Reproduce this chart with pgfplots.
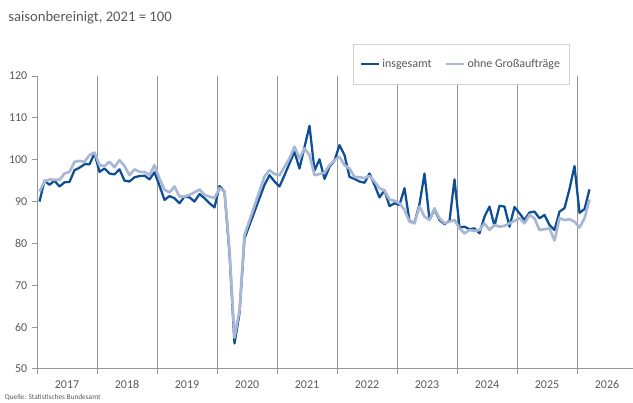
\documentclass[border=0pt]{standalone}
\usepackage{fontspec}
\setmainfont{Carlito}
\usepackage{pgfplots}
\pgfplotsset{compat=1.18}
\definecolor{dblue}{RGB}{14,78,150}
\definecolor{lgray}{RGB}{168,184,212}
\definecolor{txt}{RGB}{89,89,89}
\definecolor{gridc}{RGB}{150,150,150}

\begin{document}
\begin{tikzpicture}
\useasboundingbox (0,0) rectangle (474.75pt,302.25pt);
\node[anchor=west, text=txt, font=\fontsize{11}{13}\selectfont, inner sep=0pt] at (6pt,288.75pt) {saisonbereinigt, 2021 = 100};
\node[anchor=west, text=txt, font=\fontsize{5.5}{6}\selectfont, inner sep=0pt] at (3.5pt,4.5pt) {Quelle: Statistisches Bundesamt};
\begin{axis}[
    at={(27.75pt,25.5pt)}, anchor=south west,
    scale only axis, width=447pt, height=219.75pt,
    xmin=0, xmax=119.2, ymin=50, ymax=120,
    axis x line*=bottom, axis y line*=left,
    axis line style={gridc, line width=0.75pt, -},
    xtick={0,12,...,108}, xticklabels={},
    extra x ticks={6,18,...,114},
    extra x tick labels={2017,2018,2019,2020,2021,2022,2023,2024,2025,2026},
    extra x tick style={major tick length=0pt, grid=none,
        xticklabel style={yshift=-5pt}},
    xmajorgrids, grid style={gridc, line width=0.75pt},
    ytick={50,60,...,120},
    tick align=outside, major tick length=3.75pt,
    tick style={gridc, line width=0.75pt},
    tick label style={text=txt, font=\fontsize{9}{11}\selectfont},
    /pgf/number format/assume math mode=true,
    legend columns=2,
    legend cell align=left,
    legend image code/.code={\draw[#1] (0pt,0pt) -- (13pt,0pt);},
    legend style={at={(0.712,1.041)}, anchor=center, draw=gray!35, fill=white,
        text=txt, font=\fontsize{9}{11}\selectfont, inner xsep=5pt, inner ysep=9pt,
        /tikz/every even column/.append style={column sep=8pt}},
]
\addplot[dblue, line width=1.7pt, line join=round] coordinates {
(0.5,90.0)(1.5,95.0)(2.5,94.0)(3.5,95.0)(4.5,93.6)(5.5,94.6)(6.5,94.7)(7.5,97.5)(8.5,98.1)(9.5,98.9)(10.5,98.9)(11.5,101.5)
(12.5,97.1)(13.5,97.9)(14.5,96.7)(15.5,96.5)(16.5,97.7)(17.5,95.0)(18.5,94.8)(19.5,95.8)(20.5,96.1)(21.5,96.2)(22.5,95.3)(23.5,97.0)
(24.5,93.8)(25.5,90.4)(26.5,91.3)(27.5,90.8)(28.5,89.6)(29.5,91.2)(30.5,91.0)(31.5,90.0)(32.5,91.8)(33.5,90.8)(34.5,89.6)(35.5,88.6)
(36.5,93.7)(37.5,92.4)(38.5,77.6)(39.5,56.1)(40.5,63.3)(41.5,81.2)(42.5,84.4)(43.5,87.6)(44.5,90.8)(45.5,94.0)(46.5,96.3)(47.5,94.8)
(48.5,93.6)(49.5,96.3)(50.5,99.1)(51.5,101.9)(52.5,97.9)(53.5,103.0)(54.5,108.1)(55.5,97.4)(56.5,100.1)(57.5,95.4)(58.5,98.3)(59.5,99.8)
(60.5,103.5)(61.5,101.1)(62.5,95.9)(63.5,95.4)(64.5,94.8)(65.5,94.5)(66.5,96.7)(67.5,94.0)(68.5,91.0)(69.5,92.7)(70.5,88.9)(71.5,89.6)
(72.5,89.2)(73.5,93.2)(74.5,85.3)(75.5,85.0)(76.5,89.4)(77.5,96.7)(78.5,85.6)(79.5,88.1)(80.5,85.6)(81.5,84.6)(82.5,85.4)(83.5,95.3)
(84.5,83.8)(85.5,84.0)(86.5,83.4)(87.5,83.6)(88.5,82.4)(89.5,86.4)(90.5,88.8)(91.5,84.2)(92.5,89.0)(93.5,88.8)(94.5,84.0)(95.5,88.7)
(96.5,87.2)(97.5,85.6)(98.5,87.4)(99.5,87.6)(100.5,86.0)(101.5,86.8)(102.5,84.4)(103.5,83.2)(104.5,87.6)(105.5,88.4)(106.5,93.0)(107.5,98.5)
(108.5,87.3)(109.5,88.2)(110.5,92.9)
};
\addlegendentry{insgesamt}
\addplot[lgray, line width=2pt, line join=round] coordinates {
(0.5,92.4)(1.5,94.8)(2.5,95.3)(3.5,95.2)(4.5,95.2)(5.5,96.7)(6.5,97.1)(7.5,99.5)(8.5,99.7)(9.5,99.5)(10.5,101.1)(11.5,101.7)
(12.5,98.7)(13.5,98.5)(14.5,99.5)(15.5,98.2)(16.5,99.9)(17.5,98.5)(18.5,96.3)(19.5,97.7)(20.5,97.1)(21.5,97.1)(22.5,96.3)(23.5,98.7)
(24.5,95.5)(25.5,92.8)(26.5,92.2)(27.5,93.6)(28.5,91.2)(29.5,91.2)(30.5,91.6)(31.5,92.2)(32.5,92.9)(33.5,91.6)(34.5,91.2)(35.5,90.8)
(36.5,93.2)(37.5,92.4)(38.5,78.5)(39.5,57.5)(40.5,64.0)(41.5,82.0)(42.5,85.5)(43.5,89.0)(44.5,92.5)(45.5,96.0)(46.5,97.5)(47.5,96.6)
(48.5,96.3)(49.5,98.3)(50.5,100.3)(51.5,103.1)(52.5,100.3)(53.5,102.7)(54.5,101.1)(55.5,96.3)(56.5,96.6)(57.5,96.9)(58.5,98.7)(59.5,99.9)
(60.5,100.7)(61.5,98.7)(62.5,97.9)(63.5,95.9)(64.5,95.8)(65.5,95.6)(66.5,96.1)(67.5,94.8)(68.5,93.2)(69.5,92.6)(70.5,90.5)(71.5,90.2)
(72.5,89.6)(73.5,88.0)(74.5,85.2)(75.5,84.8)(76.5,88.8)(77.5,86.4)(78.5,85.6)(79.5,88.4)(80.5,86.0)(81.5,84.8)(82.5,85.2)(83.5,85.6)
(84.5,83.6)(85.5,82.4)(86.5,83.2)(87.5,83.0)(88.5,83.2)(89.5,84.8)(90.5,83.2)(91.5,84.4)(92.5,84.0)(93.5,84.2)(94.5,84.8)(95.5,85.4)
(96.5,86.0)(97.5,84.8)(98.5,86.8)(99.5,86.0)(100.5,83.2)(101.5,83.4)(102.5,83.6)(103.5,80.7)(104.5,86.0)(105.5,85.6)(106.5,85.8)(107.5,85.2)
(108.5,83.8)(109.5,86.0)(110.5,90.5)
};
\addlegendentry{ohne Großaufträge}
\end{axis}
\end{tikzpicture}
\end{document}
